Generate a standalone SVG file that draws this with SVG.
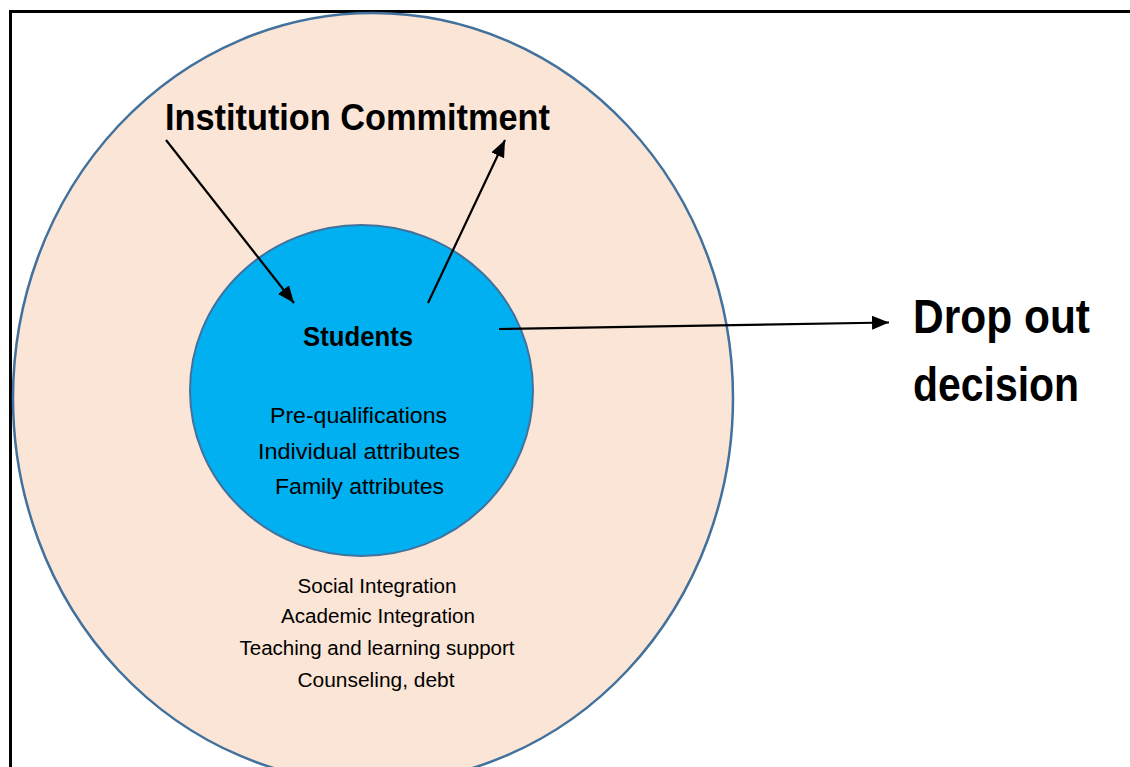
<svg xmlns="http://www.w3.org/2000/svg" width="1130" height="767" viewBox="0 0 1130 767">
  <defs>
    <marker id="arrow" markerUnits="userSpaceOnUse" markerWidth="18" markerHeight="16" refX="17" refY="7" orient="auto">
      <path d="M0,0 L17,7 L0,14 z" fill="#000"/>
    </marker>
    <style>
      .frame { stroke: #000; stroke-width: 3; fill: none; }
      .conn { stroke: #000; stroke-width: 2.2; fill: none; marker-end: url(#arrow); }
      .t { font-family: "Liberation Sans", Arial, sans-serif; fill: #000; }
      .b { font-weight: bold; }
    </style>
  </defs>
  <rect x="0" y="0" width="1130" height="767" fill="#fff"/>
  <g id="frame">
    <line class="frame" x1="10" y1="11.5" x2="1130" y2="11.5"/>
    <line class="frame" x1="10.5" y1="10" x2="10.5" y2="767"/>
  </g>
  <g id="institution">
    <ellipse cx="373" cy="398" rx="360" ry="385" fill="#FBE5D6" stroke="#41719C" stroke-width="2.5"/>
    <text class="t b" x="165" y="130" font-size="36" textLength="385" lengthAdjust="spacingAndGlyphs">Institution Commitment</text>
    <g class="t" font-size="20" text-anchor="middle">
      <text x="377" y="593" textLength="159" lengthAdjust="spacingAndGlyphs">Social Integration</text>
      <text x="378" y="623" textLength="194" lengthAdjust="spacingAndGlyphs">Academic Integration</text>
      <text x="377" y="655" textLength="275" lengthAdjust="spacingAndGlyphs">Teaching and learning support</text>
      <text x="376" y="687" textLength="157" lengthAdjust="spacingAndGlyphs">Counseling, debt</text>
    </g>
  </g>
  <g id="students">
    <ellipse cx="361.5" cy="390.5" rx="171.5" ry="165.5" fill="#00B0F0" stroke="#41719C" stroke-width="2"/>
    <text class="t b" x="303" y="346" font-size="28" textLength="110" lengthAdjust="spacingAndGlyphs">Students</text>
    <g class="t" font-size="22" text-anchor="middle">
      <text x="358.5" y="423" textLength="177" lengthAdjust="spacingAndGlyphs">Pre-qualifications</text>
      <text x="359" y="459" textLength="202" lengthAdjust="spacingAndGlyphs">Individual attributes</text>
      <text x="359.5" y="494" textLength="169" lengthAdjust="spacingAndGlyphs">Family attributes</text>
    </g>
  </g>
  <g id="dropout">
    <text class="t b" x="913" y="333" font-size="48" textLength="177" lengthAdjust="spacingAndGlyphs">Drop out</text>
    <text class="t b" x="913" y="401" font-size="48" textLength="166" lengthAdjust="spacingAndGlyphs">decision</text>
  </g>
  <g id="connectors">
    <line class="conn" x1="166" y1="140" x2="294" y2="303"/>
    <line class="conn" x1="428" y1="303" x2="505" y2="140"/>
    <line class="conn" x1="499" y1="329" x2="889" y2="322.5"/>
  </g>
</svg>
